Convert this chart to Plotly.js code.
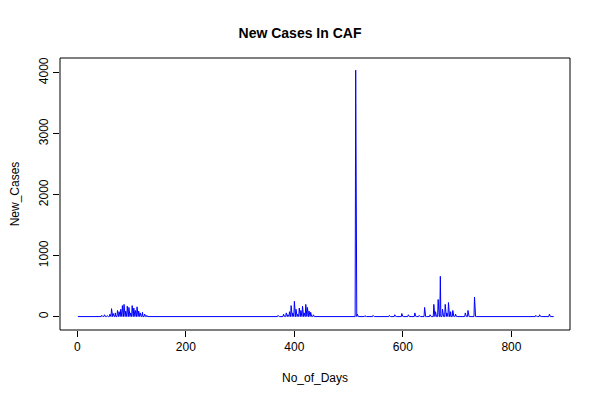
<!DOCTYPE html><html><head><script src="https://cdn.plot.ly/plotly-3.0.1.min.js"></script></head><body style="margin:0">
<div id="c" style="width:600px;height:400px"></div>
<script>
const nDays = 878;
const spikeDays = [45,50,55,60,63,66,70,74,77,80,83,86,89,92,95,98,101,104,107,110,113,116,120,124,128,140,160,180,200,
 370,380,385,388,391,394,397,400,403,406,409,412,415,418,421,424,427,430,435,460,
 513,516,530,545,560,575,585,598,610,622,630,640,650,657,660,665,669,673,678,681,684,688,692,697,715,720,732,845,852,870];
const spikeCases = [20,30,15,40,130,50,60,100,80,120,180,200,90,170,150,60,180,140,100,160,90,60,70,40,20,10,8,10,6,
 20,40,60,30,80,180,60,250,120,40,140,100,170,60,200,150,90,70,30,10,
 4040,40,15,20,10,20,30,50,30,60,20,150,30,200,80,280,660,120,200,60,230,80,100,40,60,100,320,20,30,40];
const days = [], cases = [];
for (let d = 1; d <= nDays; d++) { days.push(d); cases.push(0); }
spikeDays.forEach((d,i)=>{ cases[d-1] = spikeCases[i]; });
const ax = {showgrid:false, zeroline:false, showline:true, mirror:false, linecolor:'#000', ticks:'outside', ticklen:6, tickcolor:'#000', tickfont:{size:12,color:'#000'}};
Plotly.newPlot('c',[{x:days,y:cases,type:'scatter',mode:'lines',line:{color:'#0000ff',width:1}}],{
 width:600,height:400,margin:{l:60,r:30,t:58,b:70},
 paper_bgcolor:'#fff',plot_bgcolor:'#fff',
 font:{family:'Liberation Sans, Arial, sans-serif',color:'#000'},
 title:{text:'<b>New Cases In CAF</b>',x:0.5,y:0.93,font:{size:14}},
 xaxis:Object.assign({},ax,{range:[-32,908],tickvals:[0,200,400,600,800],title:{text:'No_of_Days',font:{size:12},standoff:20},showline:false}),
 yaxis:Object.assign({},ax,{range:[-220,4240],tickvals:[0,1000,2000,3000,4000],tickangle:-90,title:{text:'New_Cases',font:{size:12},standoff:15},showline:false}),
 shapes:[{type:'rect',xref:'paper',yref:'paper',x0:0,x1:1,y0:0,y1:1,line:{color:'#000',width:1}}]
},{displayModeBar:false});
</script></body></html>
